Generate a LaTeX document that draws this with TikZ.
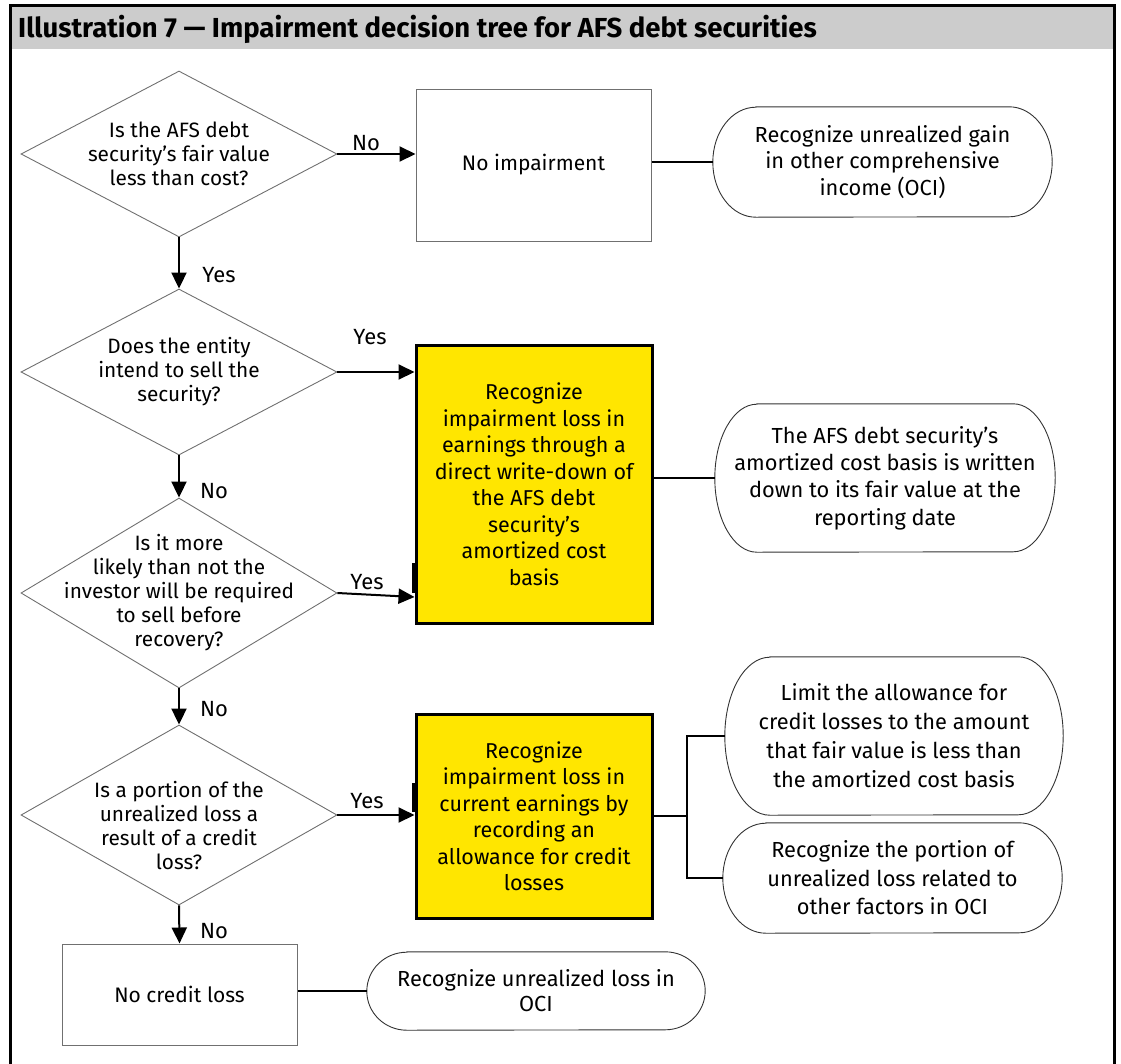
\documentclass[tikz,border=0pt]{standalone}
\usepackage{fontspec}
\setmainfont{Fira Sans}
\usetikzlibrary{shapes.geometric,arrows.meta}
\definecolor{eyyellow}{HTML}{FFE600}
\definecolor{hdrgray}{HTML}{CCCCCC}
\definecolor{boxgray}{HTML}{707070}
\newcommand\stadoutline[3]{%
  \draw[stadline] ([xshift=#2]#1.north west) -- ([xshift=-#2]#1.north east)
    arc[start angle=90,end angle=-90,x radius=#2,y radius=#3]
    -- ([xshift=#2]#1.south west)
    arc[start angle=270,end angle=90,x radius=#2,y radius=#3] -- cycle;}
\begin{document}
\begin{tikzpicture}[x=1pt,y=1pt,
  dia/.style={diamond, draw=boxgray, line width=0.9pt, minimum width=316pt, minimum height=#1, inner sep=0pt},
  dtext/.style={align=center, inner sep=0pt, font=\fontsize{20.8}{24}\selectfont},
  plainbox/.style={draw=boxgray, line width=1pt, inner sep=0pt, align=center, font=\fontsize{21}{24}\selectfont},
  ybox/.style={draw=black, line width=3pt, fill=eyyellow, align=center, inner sep=0pt, font=\fontsize{21.5}{26.5}\selectfont},
  stad/.style={align=center, inner sep=0pt, font=\fontsize{21.8}{#1}\selectfont},
  stadline/.style={draw=black!80, line width=0.9pt},
  arr/.style={line width=2pt, -{Triangle[length=16pt,width=15pt]}},
  conn/.style={line width=2pt},
  lab/.style={inner sep=0pt, font=\fontsize{22}{24}\selectfont},
  title/.style={anchor=west, inner sep=0pt, font=\bfseries\fontsize{27.5}{30}\selectfont}
]
\useasboundingbox (0,0) rectangle (1121,-1063);
% header and frame
\fill[hdrgray] (10,-5) rectangle (1114,-49);
\draw[line width=3pt] (10,-1075) -- (10,-5) -- (1114,-5) -- (1114,-1075);
\node[title] (ttl) at (18,-29) {Illustration 7 — Impairment decision tree for AFS debt securities};

% diamonds
\node[dia=166pt] (d1) at (179,-154) {};
\node[dtext] (d1t) at (d1.center) {Is the AFS debt\\security’s fair value\\less than cost?};
\node[dia=166pt] (d2) at (179,-372) {};
\node[dtext] (d2t) at (d2.center) {Does the entity\\intend to sell the\\security?};
\node[dia=190pt] (d3) at (179,-593) {};
\node[dtext] (d3t) at (d3.center) {Is it more\\likely than not the\\investor will be required\\to sell before\\recovery?};
\node[dia=180pt] (d4) at (179,-815) {};
\node[dtext] (d4t) at ([yshift=-10pt]d4.center) {Is a portion of the\\unrealized loss a\\result of a credit\\loss?};

% boxes
\node[plainbox, minimum width=235pt, minimum height=152pt] (b1) at (533.5,-165) {No impairment};
\node[plainbox, minimum width=235pt, minimum height=101pt] (b2) at (179.5,-994.5) {No credit loss};
\node[ybox, minimum width=236pt, minimum height=278pt] (y1) at (534,-484) {Recognize\\impairment loss in\\earnings through a\\direct write-down of\\the AFS debt\\security’s\\amortized cost\\basis};
\node[ybox, minimum width=236pt, minimum height=204pt] (y2) at (534,-816) {Recognize\\impairment loss in\\current earnings by\\recording an\\allowance for credit\\losses};

% stadiums
\node[stad=26.5, minimum width=339pt, minimum height=110pt] (s1) at (882.5,-162) {Recognize unrealized gain\\in other comprehensive\\income (OCI)};
\stadoutline{s1}{43pt}{55pt}
\node[stad=27.3, minimum width=340pt, minimum height=148pt] (s2) at (885,-478) {The AFS debt security’s\\amortized cost basis is written\\down to its fair value at the\\reporting date};
\stadoutline{s2}{42pt}{74pt}
\node[stad=29, minimum width=338pt, minimum height=158pt] (s3) at (894,-736) {Limit the allowance for\\credit losses to the amount\\that fair value is less than\\the amortized cost basis};
\stadoutline{s3}{45pt}{79pt}
\node[stad=28.5, minimum width=339pt, minimum height=110pt] (s4) at (892.5,-878) {Recognize the portion of\\unrealized loss related to\\other factors in OCI};
\stadoutline{s4}{43pt}{55pt}
\node[stad=25, minimum width=338pt, minimum height=78pt] (s5) at (536,-991) {Recognize unrealized loss in\\OCI};
\stadoutline{s5}{40pt}{39pt}

% vertical arrows
\draw[arr] (d1.south) -- (d2.north);
\draw[arr] (d2.south) -- (d3.north);
\draw[arr] (d3.south) -- (d4.north);
\draw[arr] (d4.south) -- (b2.north);
\node[lab] (l1) at (219,-275) {Yes};
\node[lab] (l2) at (214,-491) {No};
\node[lab] (l3) at (214,-709) {No};
\node[lab] (l4) at (214,-931) {No};

% horizontal arrows
\draw[arr] (d1.east) -- (b1.west |- d1.east);
\node[lab] (l5) at (366,-143) {No};
\draw[arr] (d2.east) -- (y1.west |- d2.east);
\node[lab] (l6) at (370,-337) {Yes};
\draw[arr] (d3.east) -- (y1.west |- 0,-597);
\node[lab] (l7) at (367,-582) {Yes};
\draw[arr] (d4.east) -- (y2.west |- d4.east);
\node[lab] (l8) at (367,-801) {Yes};
\draw[line width=4.5pt] (y1.west |- 0,-563) -- (y1.west |- 0,-593);
\draw[line width=4.5pt] (y2.west |- 0,-783) -- (y2.west |- 0,-812);

% connectors
\draw[conn] (b1.east |- s1.west) -- (s1.west);
\draw[conn] (y1.east |- s2.west) -- (s2.west);
\coordinate (br) at (687,-816);
\draw[conn] (y2.east) -- (br);
\draw[conn] (s3.west) -| (br);
\draw[conn] (s4.west) -| (br);
\draw[conn] (b2.east |- s5.west) -- (s5.west);
\end{tikzpicture}
\end{document}
